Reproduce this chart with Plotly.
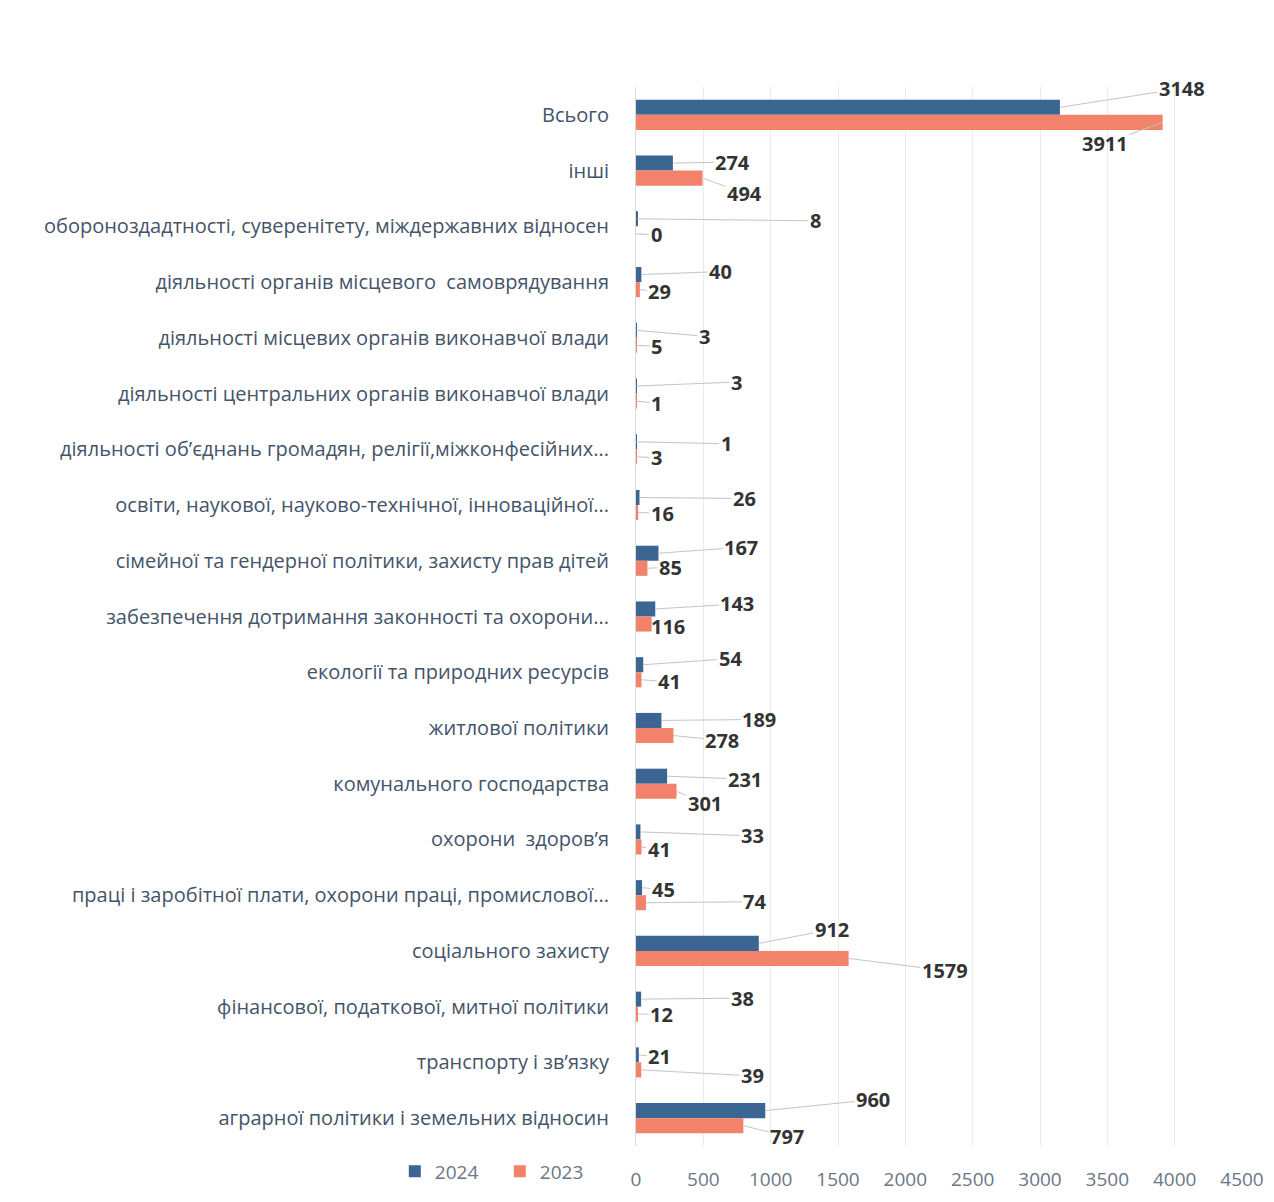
import plotly.graph_objects as go

categories = [
    "Всього",
    "інші",
    "обороноздадтності, суверенітету, міждержавних відносен",
    "діяльності органів місцевого  самоврядування",
    "діяльності місцевих органів виконавчої влади",
    "діяльності центральних органів виконавчої влади",
    "діяльності об’єднань громадян, релігії,міжконфесійних...",
    "освіти, наукової, науково-технічної, інноваційної...",
    "сімейної та гендерної політики, захисту прав дітей",
    "забезпечення дотримання законності та охорони...",
    "екології та природних ресурсів",
    "житлової політики",
    "комунального господарства",
    "охорони  здоров’я",
    "праці і заробітної плати, охорони праці, промислової...",
    "соціального захисту",
    "фінансової, податкової, митної політики",
    "транспорту і зв’язку",
    "аграрної політики і земельних відносин",
]
values_2024 = [3148, 274, 8, 40, 3, 3, 1, 26, 167, 143, 54, 189, 231, 33, 45, 912, 38, 21, 960]
values_2023 = [3911, 494, 0, 29, 5, 1, 3, 16, 85, 116, 41, 278, 301, 41, 74, 1579, 12, 39, 797]
x_ticks = [0, 500, 1000, 1500, 2000, 2500, 3000, 3500, 4000, 4500]

# label pixel offsets (styling of the data-label callouts)
off_2024 = [(122, -19), (60, -1), (178, 2), (79, -3), (68, 6), (100, -4), (90, 2), (105, 1),
            (83, -6), (82, -5), (87, -6), (98, -1), (78, 3), (112, 4), (21, 2), (73, -14),
            (101, -1), (21, 2), (108, -11)]
off_2023 = [(-58, 21), (42, 15), (20, 1), (20, 2), (20, 1), (20, 2), (20, 1), (24, 1),
            (23, -1), (16, 2), (28, 2), (49, 5), (28, 12), (18, 3), (109, -1), (96, 12),
            (24, 0), (111, 6), (44, 11)]

BLUE = "#3b6593"
ORANGE = "#f2836a"
bargap = 0.46
idx = list(range(len(categories)))

fig = go.Figure()
fig.add_trace(go.Bar(y=idx, x=values_2024, orientation="h", name="2024",
                     marker=dict(color=BLUE, line=dict(width=0))))
fig.add_trace(go.Bar(y=idx, x=values_2023, orientation="h", name="2023",
                     marker=dict(color=ORANGE, line=dict(width=0))))

w = (1 - bargap) / 2
annotations = []
for i in idx:
    for val, sign, off in ((values_2024[i], -1, off_2024[i]), (values_2023[i], 1, off_2023[i])):
        annotations.append(dict(
            x=val, y=i + sign * w / 2, xref="x", yref="y",
            text=f"<b>{val}</b>", showarrow=True, arrowhead=0, arrowwidth=1,
            arrowcolor="#c4c4c4", standoff=0, startstandoff=0,
            ax=off[0], ay=off[1],
            font=dict(family="Open Sans", size=20, color="#333333"),
        ))

fig.update_layout(
    width=1266, height=1194,
    margin=dict(l=628, r=32, t=79, b=54),
    paper_bgcolor="white", plot_bgcolor="white",
    barmode="group", bargap=bargap, bargroupgap=0,
    annotations=annotations,
    showlegend=True,
    legend=dict(orientation="h", x=-0.398, xanchor="left", y=-0.024, yanchor="middle",
                font=dict(family="Open Sans", size=19, color="#6a7686"),
                itemwidth=30, entrywidth=60, entrywidthmode="pixels",
                tracegroupgap=0, bgcolor="rgba(0,0,0,0)"),
    xaxis=dict(range=[0, 4500], tickvals=x_ticks, showgrid=True, gridcolor="#ebebeb",
               gridwidth=1, zeroline=False, showline=False,
               ticks="outside", ticklen=16, tickcolor="rgba(0,0,0,0)",
               tickfont=dict(family="Open Sans", size=19, color="#6a7686"), automargin=False),
    yaxis=dict(tickvals=idx, ticktext=categories, range=[18.5, -0.5], showgrid=False,
               zeroline=False, showline=True, linecolor="#d9d9d9",
               ticks="outside", ticklen=22, tickcolor="rgba(0,0,0,0)",
               tickfont=dict(family="Open Sans", size=20, color="#44546a"), automargin=False),
)

fig.write_html("out.html")
